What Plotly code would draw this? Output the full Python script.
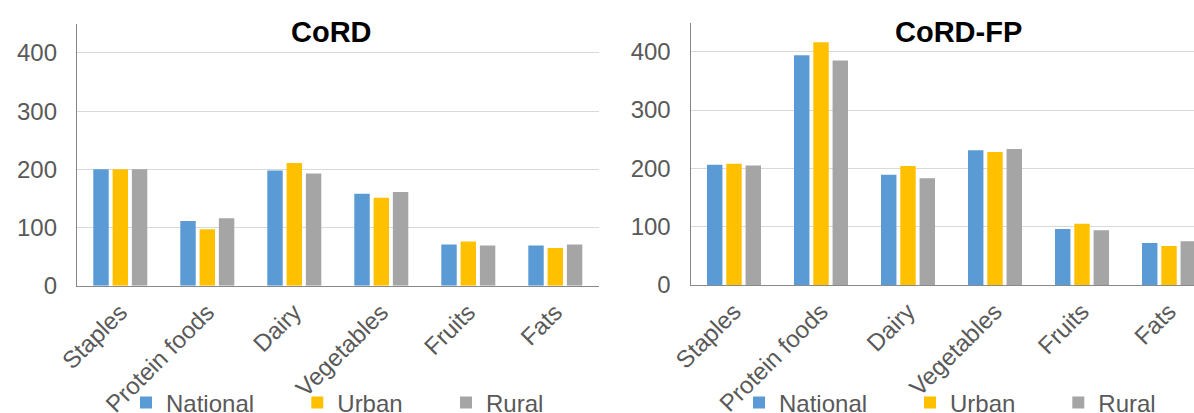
import plotly.graph_objects as go

categories = ["Staples", "Protein foods", "Dairy", "Vegetables", "Fruits", "Fats"]
series_names = ["National", "Urban", "Rural"]
series_colors = ["#5B9BD5", "#FFC000", "#A5A5A5"]

cord_national = [200, 111, 198, 158, 71, 69]
cord_urban = [200, 97, 211, 151, 76, 65]
cord_rural = [200, 116, 193, 161, 69, 71]

cordfp_national = [206, 394, 189, 231, 96, 72]
cordfp_urban = [208, 416, 204, 228, 105, 67]
cordfp_rural = [205, 385, 183, 233, 94, 75]

y_ticks = [0, 100, 200, 300, 400]
titles = ["CoRD", "CoRD-FP"]

W, H = 1194, 413
FONT = "Arial, Liberation Sans, sans-serif"
GRAY_TXT = "#595959"

fig = go.Figure()

left_vals = [cord_national, cord_urban, cord_rural]
right_vals = [cordfp_national, cordfp_urban, cordfp_rural]

legend_ids = ["legend", "legend2", "legend3", "legend4", "legend5", "legend6"]
for i, (name, col, vals) in enumerate(zip(series_names, series_colors, left_vals)):
    fig.add_trace(go.Bar(x=categories, y=vals, name=name, marker_color=col,
                         marker_line_width=0, xaxis="x", yaxis="y",
                         legend=legend_ids[i], showlegend=True))
for i, (name, col, vals) in enumerate(zip(series_names, series_colors, right_vals)):
    fig.add_trace(go.Bar(x=categories, y=vals, name=name, marker_color=col,
                         marker_line_width=0, xaxis="x2", yaxis="y2",
                         legend=legend_ids[3 + i], showlegend=True))

axis_common_y = dict(range=[0, 450], tickvals=y_ticks, showgrid=True,
                     gridcolor="#D9D9D9", gridwidth=1, showline=True,
                     linecolor="#868686", linewidth=1, zeroline=False,
                     ticks="", ticklabelstandoff=14,
                     tickfont=dict(family=FONT, size=24, color=GRAY_TXT),
                     automargin=False, fixedrange=True)
axis_common_x = dict(type="category", categoryorder="array", categoryarray=categories,
                     showline=True, linecolor="#898989", linewidth=1,
                     showgrid=False, ticks="", tickangle=-45, ticklabelstandoff=2,
                     tickfont=dict(family=FONT, size=24, color=GRAY_TXT),
                     automargin=False)

left_px = (76.8, 598.8)
right_px = (690.5, W)
cat_w = 87.0

fig.update_layout(
    width=W, height=H,
    margin=dict(l=0, r=0, t=0, b=0, autoexpand=False),
    paper_bgcolor="white", plot_bgcolor="white",
    barmode="group", bargap=0.335, bargroupgap=0.2,
    xaxis=dict(domain=[left_px[0] / W, left_px[1] / W], anchor="y",
               range=[-0.5, 5.5], **axis_common_x),
    yaxis=dict(domain=[(H - 285.7) / H, (H - 23.9) / H], anchor="x", **axis_common_y),
    xaxis2=dict(domain=[right_px[0] / W, 1.0], anchor="y2",
                range=[-0.5, -0.5 + (right_px[1] - right_px[0]) / cat_w], **axis_common_x),
    yaxis2=dict(domain=[(H - 285.0) / H, (H - 22.5) / H], anchor="x2", **axis_common_y),
    showlegend=True,
)

legend_sq_left = [146, 317.3, 466, 759, 930, 1078.3]
for lid, sq in zip(legend_ids, legend_sq_left):
    fig.update_layout({lid: dict(x=(sq - 20) / W, xanchor="left",
                                 y=(H - 403) / H, yanchor="middle",
                                 orientation="h", bgcolor="rgba(0,0,0,0)",
                                 borderwidth=0, itemwidth=30,
                                 font=dict(family=FONT, size=24, color=GRAY_TXT))})

title_x = [331, 958]
for t, xc in zip(titles, title_x):
    fig.add_annotation(text="<b>" + t + "</b>", x=xc / W, y=(H - 32) / H,
                       xref="paper", yref="paper", xanchor="center", yanchor="middle",
                       showarrow=False, font=dict(family=FONT, size=29, color="black"))

fig.write_html("out.html")
